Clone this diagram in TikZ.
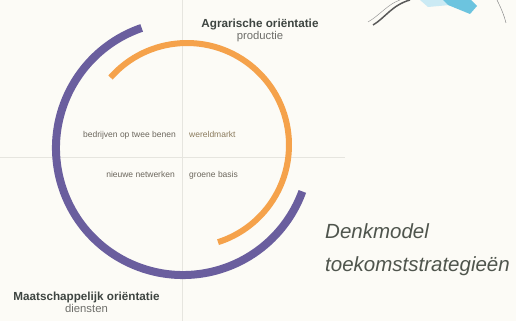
\documentclass[tikz,border=0pt]{standalone}
\usepackage{fontspec}
\setmainfont{Liberation Sans}
\definecolor{bgcream}{HTML}{FCFBF6}
\definecolor{axisgray}{HTML}{E6E5DF}
\definecolor{ringpurple}{HTML}{6A5E9E}
\definecolor{ringorange}{HTML}{F5A24B}
\definecolor{headdark}{HTML}{3E4541}
\definecolor{subgray}{HTML}{6E6E6A}
\definecolor{labelgray}{HTML}{6C675D}
\definecolor{labelbrown}{HTML}{8A7A5C}
\definecolor{titlegray}{HTML}{4F554D}
\definecolor{skyblue}{HTML}{6CC4DF}
\begin{document}
\begin{tikzpicture}[x=1pt,y=1pt,
  axisline/.style={draw=axisgray, line width=1pt},
  outerring/.style={draw=ringpurple, line width=8pt, line cap=butt},
  innerring/.style={draw=ringorange, line width=6pt, line cap=butt},
  heading/.style={inner sep=0pt, anchor=base, text=headdark, font=\fontsize{11.7}{13}\selectfont\bfseries},
  subheading/.style={inner sep=0pt, anchor=base, text=subgray, font=\fontsize{11.3}{13}\selectfont},
  quadlabel/.style={inner sep=0pt, anchor=base, font=\fontsize{8.5}{10}\selectfont},
  titletext/.style={inner sep=0pt, anchor=base west, text=titlegray, font=\fontsize{20.5}{24}\selectfont\itshape}]
\useasboundingbox (0,0) rectangle (516,321);
\fill[bgcream] (0,0) rectangle (516,321);

% axes of the quadrant model
\coordinate (vtop) at (182,321);
\coordinate (vbot) at (182,0);
\coordinate (hleft) at (0,163);
\coordinate (hright) at (345,163);
\draw[axisline] (vtop) -- (vbot);
\draw[axisline] (hleft) -- (hright);

% the two rings
\coordinate (pc) at (183,173);
\coordinate (oc) at (187,176);
\draw[outerring] ([shift={(109:127pt)}]pc) arc[start angle=109, end angle=340, radius=127pt];
\draw[innerring] ([shift={(138.6:102pt)}]oc) arc[start angle=138.6, end angle=-72.3, radius=102pt];

% axis headings
\node[heading] (agr) at (260,293) {Agrarische oriëntatie};
\node[subheading] (prod) at (260,281) {productie};
\node[heading] (maat) at (86.5,21) {Maatschappelijk oriëntatie};
\node[subheading] (dien) at (86.5,9) {diensten};

% quadrant labels
\node[quadlabel, anchor=base east, text=labelgray] (q1) at (176,183) {bedrijven op twee benen};
\node[quadlabel, anchor=base west, text=labelbrown] (q2) at (189,183) {wereldmarkt};
\node[quadlabel, anchor=base east, text=labelgray] (q3) at (175,143) {nieuwe netwerken};
\node[quadlabel, anchor=base west, text=labelgray] (q4) at (189,143) {groene basis};

% title
\node[titletext] (t1) at (325,82) {Denkmodel};
\node[titletext] (t2) at (325,49) {toekomststrategieën};

% fragments in the upper right corner
\fill[skyblue!35] (420,321) -- (446,321) -- (450,316) -- (428,314) -- cycle;
\fill[skyblue] (443,321) -- (471,321) -- (477,315) -- (470,307) -- (448,316) -- cycle;
\draw[draw=black!65, line width=1.5pt] (373,296) .. controls (385,303) and (392,316) .. (410,321);
\draw[draw=black!40, line width=0.5pt] (368,299) .. controls (380,306) and (388,317) .. (400,321);
\draw[draw=black!45, line width=0.5pt] (497,321) .. controls (501,313) and (504,306) .. (506,298);
\end{tikzpicture}
\end{document}
